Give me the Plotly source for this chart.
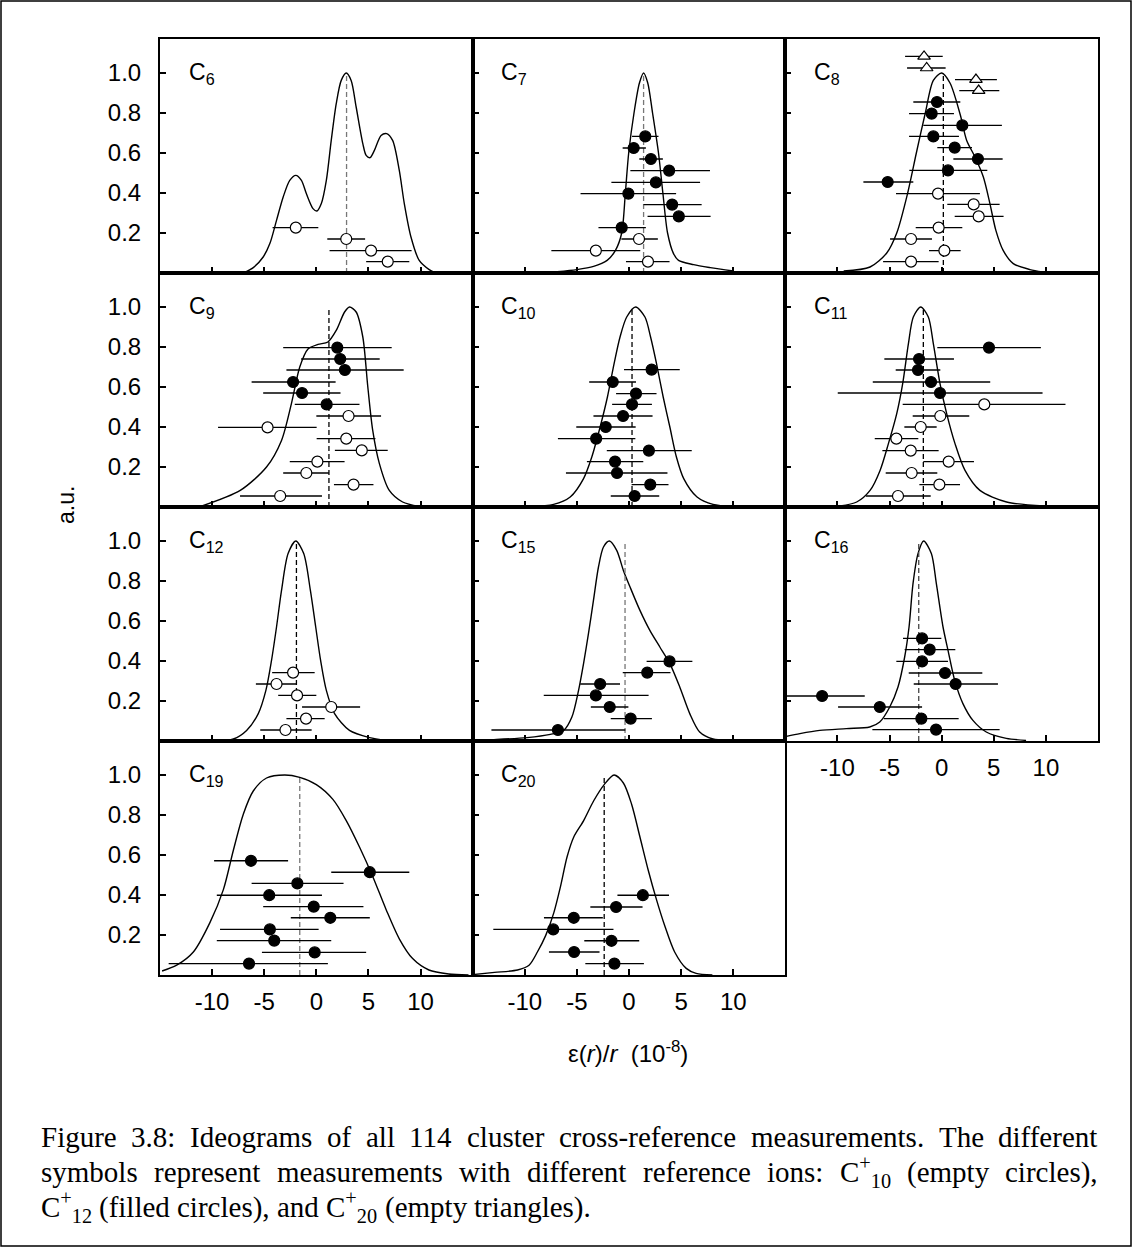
import plotly.graph_objects as go
from plotly.subplots import make_subplots

# ---------------- data ----------------
panel_names = ["6", "7", "8", "9", "10", "11", "12", "15", "16", "19", "20"]
x_ticks = [-10, -5, 0, 5, 10]
x_tick_text = ["-10", "-5", "0", "5", "10"]
y_ticks = [0.2, 0.4, 0.6, 0.8, 1.0]
y_tick_text = ["0.2", "0.4", "0.6", "0.8", "1.0"]

# ideogram curves
c6_cx = [-7.0, -6.05, -5.1, -4.46, -3.82, -3.18, -2.55, -1.97, -1.43, -0.96, -0.32, 0.06, 0.48, 0.96, 1.43, 1.91, 2.39, 2.87, 3.34, 3.82, 4.46, 4.78, 5.16, 5.57, 6.21, 6.75, 7.32, 7.96, 8.44, 9.08, 9.87, 10.83, 11.46]
c6_cy = [0.0, 0.027, 0.08, 0.147, 0.263, 0.38, 0.463, 0.488, 0.463, 0.397, 0.322, 0.31, 0.347, 0.463, 0.663, 0.847, 0.963, 1.0, 0.963, 0.83, 0.647, 0.588, 0.577, 0.613, 0.688, 0.697, 0.663, 0.513, 0.347, 0.18, 0.063, 0.017, 0.0]
c7_cx = [-6.9, -5.0, -3.4, -2.1, -1.3, -0.7, -0.35, -0.03, 0.48, 1.0, 1.4, 1.8, 2.26, 2.83, 3.25, 3.7, 4.27, 4.75, 6.2, 7.8, 10.0]
c7_cy = [0.007, 0.017, 0.033, 0.063, 0.113, 0.2, 0.4, 0.6, 0.8, 0.95, 1.0, 0.95, 0.8, 0.6, 0.4, 0.2, 0.097, 0.063, 0.042, 0.027, 0.01]
c8_cx = [-9.4, -6.87, -5.27, -4.31, -3.26, -2.43, -1.57, -0.8, 0.0, 0.8, 1.79, 2.4, 3.2, 4.0, 4.63, 5.2, 5.9, 6.87, 8.47, 9.7]
c8_cy = [0.01, 0.03, 0.1, 0.2, 0.4, 0.6, 0.8, 0.963, 1.0, 0.95, 0.79, 0.663, 0.58, 0.48, 0.347, 0.213, 0.113, 0.047, 0.017, 0.005]
c9_cx = [-11.1, -7.3, -4.78, -3.34, -2.39, -1.59, -0.8, 0.16, 1.11, 1.91, 2.71, 3.18, 3.82, 4.46, 4.94, 5.41, 6.05, 7.0, 8.28, 9.87]
c9_cy = [0.003, 0.083, 0.2, 0.333, 0.517, 0.7, 0.79, 0.813, 0.825, 0.883, 0.975, 1.0, 0.975, 0.85, 0.6, 0.383, 0.217, 0.083, 0.025, 0.003]
c10_cx = [-9.46, -7.23, -5.64, -4.36, -3.57, -2.77, -2.07, -1.43, -0.86, -0.22, 0.64, 1.53, 2.07, 2.64, 3.28, 3.92, 4.55, 5.25, 6.53, 8.06, 9.97]
c10_cy = [0.003, 0.013, 0.05, 0.142, 0.25, 0.4, 0.55, 0.717, 0.85, 0.95, 1.0, 0.95, 0.85, 0.717, 0.55, 0.4, 0.25, 0.142, 0.05, 0.013, 0.003]
c11_cx = [-9.74, -8.15, -6.87, -5.91, -5.11, -4.31, -3.74, -3.19, -2.72, -2.01, -1.28, -0.8, -0.16, 0.48, 1.28, 2.24, 3.67, 6.23, 10.06, 12.3]
c11_cy = [0.005, 0.025, 0.083, 0.183, 0.317, 0.467, 0.617, 0.817, 0.95, 1.0, 0.95, 0.817, 0.617, 0.467, 0.317, 0.183, 0.083, 0.025, 0.005, 0.003]
c12_cx = [-9.55, -7.96, -6.69, -5.57, -4.84, -4.3, -3.82, -3.34, -2.71, -1.97, -1.21, -0.57, -0.06, 0.41, 0.96, 1.75, 3.18, 5.1, 6.69]
c12_cy = [0.0, 0.01, 0.053, 0.137, 0.253, 0.403, 0.57, 0.753, 0.937, 1.0, 0.937, 0.753, 0.57, 0.403, 0.253, 0.137, 0.053, 0.017, 0.003]
c15_cx = [-14.9, -12.96, -9.78, -7.55, -6.27, -5.48, -4.84, -4.36, -3.89, -3.41, -2.93, -2.45, -1.88, -1.18, -0.54, 0.1, 1.05, 2.0, 2.96, 3.92, 4.87, 5.83, 6.78, 8.06, 9.33]
c15_cy = [0.003, 0.007, 0.017, 0.033, 0.053, 0.12, 0.253, 0.387, 0.537, 0.703, 0.87, 0.97, 1.0, 0.953, 0.853, 0.77, 0.653, 0.553, 0.47, 0.387, 0.27, 0.137, 0.045, 0.01, 0.003]
c16_cx = [-14.9, -13.6, -11.7, -9.14, -6.9, -5.94, -4.98, -4.19, -3.55, -3.13, -2.75, -2.27, -1.73, -0.99, -0.51, 0.13, 0.61, 1.25, 2.04, 3.0, 4.28, 6.2, 8.1]
c16_cy = [0.023, 0.037, 0.053, 0.062, 0.07, 0.095, 0.17, 0.27, 0.42, 0.57, 0.787, 0.937, 1.0, 0.937, 0.787, 0.57, 0.453, 0.303, 0.187, 0.103, 0.045, 0.013, 0.003]
c19_cx = [-14.8, -13.4, -11.8, -10.2, -8.92, -7.96, -7.0, -6.05, -4.78, -3.03, -1.59, 0.0, 1.59, 2.87, 4.14, 5.41, 6.69, 7.96, 9.24, 10.8, 12.7, 14.6]
c19_cy = [0.02, 0.049, 0.115, 0.263, 0.427, 0.624, 0.805, 0.92, 0.985, 1.0, 0.988, 0.952, 0.878, 0.772, 0.64, 0.493, 0.328, 0.181, 0.082, 0.025, 0.005, 0.0]
c20_cx = [-14.8, -12.9, -10.7, -9.59, -8.79, -8.0, -7.21, -6.57, -5.94, -5.3, -4.35, -3.4, -2.38, -1.43, -0.54, 0.25, 1.05, 1.84, 2.63, 3.43, 4.38, 5.49, 6.44, 8.0]
c20_cy = [0.003, 0.013, 0.025, 0.049, 0.115, 0.197, 0.312, 0.443, 0.591, 0.69, 0.772, 0.87, 0.952, 1.0, 0.96, 0.854, 0.69, 0.525, 0.378, 0.246, 0.115, 0.033, 0.008, 0.0]

# measurements: value, height, lower/upper end of error bar, kind (o=C10+ open, f=C12+ filled, t=C20+ triangle)
c6_x = [-1.97, 2.87, 5.25, 6.85]
c6_y = [0.227, 0.17, 0.112, 0.057]
c6_lo = [-4.2, 1.05, 1.27, 4.78]
c6_hi = [0.19, 4.68, 9.14, 8.92]
c6_k = ["o", "o", "o", "o"]

c7_x = [1.56, 0.45, 2.10, 3.85, 2.58, -0.06, 4.14, 4.78, -0.70, 0.96, -3.18, 1.82]
c7_y = [0.683, 0.625, 0.57, 0.512, 0.453, 0.397, 0.342, 0.283, 0.227, 0.17, 0.112, 0.057]
c7_lo = [0.29, -0.61, 0.99, 0.13, -1.69, -4.65, 1.40, 1.78, -2.93, -0.73, -7.45, -0.29]
c7_hi = [2.83, 1.62, 3.25, 7.77, 6.82, 4.52, 6.97, 7.83, 1.62, 2.77, 1.08, 3.89]
c7_k = ["f"] * 9 + ["o"] * 3

c8_x = [-1.69, -1.44, 3.29, 3.55, -0.45, -0.96, 1.98, -0.80, 1.25, 3.48, 0.61, -5.18, -0.35, 3.07, 3.55, -0.29, -2.94, 0.26, -2.94]
c8_y = [1.083, 1.025, 0.967, 0.912, 0.855, 0.797, 0.738, 0.683, 0.627, 0.57, 0.513, 0.455, 0.397, 0.343, 0.283, 0.227, 0.17, 0.112, 0.057]
c8_lo = [-3.51, -3.32, 1.28, 1.69, -2.72, -3.13, -1.76, -3.13, -0.42, 1.12, -3.10, -7.51, -4.38, 0.54, 1.25, -2.49, -4.95, -1.21, -5.62]
c8_hi = [0.10, 0.38, 5.30, 5.53, 1.79, 1.18, 5.78, 1.66, 2.91, 5.85, 4.38, -2.72, 3.67, 5.56, 5.94, 1.98, -0.93, 1.82, -0.29]
c8_k = ["t"] * 4 + ["f"] * 8 + ["o"] * 7

c9_x = [2.01, 2.29, 2.74, -2.23, -1.37, 0.99, 3.09, -4.68, 2.87, 4.36, 0.10, -0.96, 3.57, -3.47]
c9_y = [0.797, 0.74, 0.685, 0.625, 0.57, 0.513, 0.455, 0.398, 0.342, 0.283, 0.227, 0.17, 0.112, 0.055]
c9_lo = [-3.18, -1.46, -2.87, -6.21, -5.10, -2.07, 0.0, -9.43, 0.03, 1.78, -2.55, -3.18, 1.69, -7.32]
c9_hi = [7.23, 6.08, 8.38, 1.85, 2.32, 4.14, 6.21, 0.03, 5.67, 6.85, 2.71, 1.21, 5.48, 0.54]
c9_k = ["f"] * 6 + ["o"] * 8

c10_x = [2.17, -1.56, 0.67, 0.29, -0.57, -2.23, -3.15, 1.91, -1.34, -1.15, 2.04, 0.54]
c10_y = [0.687, 0.625, 0.567, 0.513, 0.455, 0.4, 0.342, 0.282, 0.227, 0.17, 0.112, 0.055]
c10_lo = [-0.48, -3.82, -1.24, -1.62, -3.41, -5.06, -6.82, -2.13, -4.04, -6.05, 0.25, -1.75]
c10_hi = [4.87, 0.67, 2.64, 2.20, 2.26, 0.64, 0.61, 6.02, 1.37, 3.69, 3.79, 2.90]
c10_k = ["f"] * 12

c11_x = [4.54, -2.17, -2.27, -1.02, -0.16, 4.09, -0.13, -2.01, -4.35, -2.97, 0.67, -2.88, -0.22, -4.19]
c11_y = [0.797, 0.74, 0.685, 0.625, 0.57, 0.513, 0.455, 0.4, 0.342, 0.282, 0.227, 0.17, 0.112, 0.055]
c11_lo = [-0.42, -5.50, -4.41, -6.61, -9.97, -3.74, -2.78, -3.58, -6.42, -5.69, -1.76, -5.37, -2.14, -7.28]
c11_hi = [9.52, 1.18, -0.13, 4.66, 9.68, 11.88, 2.65, -0.48, -2.24, -0.29, 3.10, -0.42, 1.76, -1.05]
c11_k = ["f"] * 5 + ["o"] * 9

c12_x = [-2.23, -3.82, -1.85, 1.43, -0.99, -2.96]
c12_y = [0.342, 0.285, 0.228, 0.17, 0.112, 0.055]
c12_lo = [-4.24, -5.80, -3.66, -1.37, -2.87, -5.38]
c12_hi = [-0.16, -1.91, 0.0, 4.20, 0.80, -0.45]
c12_k = ["o"] * 6

c15_x = [3.89, 1.75, -2.77, -3.18, -1.85, 0.16, -6.82]
c15_y = [0.398, 0.342, 0.285, 0.228, 0.17, 0.112, 0.055]
c15_lo = [1.69, -0.60, -4.68, -8.18, -3.66, -1.75, -13.2]
c15_hi = [6.08, 3.98, -0.86, 1.88, -0.06, 2.20, -0.35]
c15_k = ["f"] * 7

c16_x = [-1.88, -1.15, -1.88, 0.32, 1.34, -11.47, -5.94, -1.95, -0.54]
c16_y = [0.513, 0.457, 0.398, 0.34, 0.285, 0.225, 0.17, 0.112, 0.057]
c16_lo = [-3.71, -3.55, -4.35, -3.16, -2.68, -15.5, -9.94, -5.56, -6.65]
c16_hi = [-0.03, 1.31, 0.61, 3.90, 5.40, -7.38, -1.88, 1.63, 5.56]
c16_k = ["f"] * 9

c19_x = [-6.27, 5.13, -1.82, -4.52, -0.25, 1.34, -4.46, -4.04, -0.16, -6.46]
c19_y = [0.571, 0.514, 0.458, 0.399, 0.342, 0.286, 0.228, 0.172, 0.113, 0.057]
c19_lo = [-9.81, 1.43, -6.21, -9.55, -5.10, -2.45, -9.24, -9.55, -5.22, -14.17]
c19_hi = [-2.71, 8.92, 2.61, 0.54, 4.52, 5.13, 0.22, 1.43, 4.78, 1.11]
c19_k = ["f"] * 10

c20_x = [1.33, -1.24, -5.30, -7.27, -1.68, -5.27, -1.40]
c20_y = [0.399, 0.34, 0.286, 0.228, 0.171, 0.115, 0.057]
c20_lo = [-1.11, -3.71, -8.16, -13.02, -4.29, -7.68, -4.19]
c20_hi = [3.84, 1.30, -2.51, -1.49, 0.98, -2.83, 1.43]
c20_k = ["f"] * 7

# weighted means (dashed lines)
mean_values = [2.9, 1.4, 0.16, 1.21, 0.29, -1.76, -1.91, -0.38, -2.2, -1.59, -2.38]
mean_top = [1.0] * 11

# caption words (tuples = ion symbol C^+_n)
caption_line1 = ["Figure", "3.8:", "Ideograms", "of", "all", "114", "cluster", "cross-reference",
                 "measurements.", "The", "different"]
caption_line2 = ["symbols", "represent", "measurements", "with", "different", "reference", "ions:",
                 ("ion", "10"), "(empty", "circles),"]
caption_line3 = [("ion", "12"), "(filled", "circles),", "and", ("ion", "20"), "(empty", "triangles)."]

# ---------------- figure ----------------
W, H = 1135, 1260
ML, MR, MT, MB = 160, 37, 39, 285
PW, PH = W - ML - MR, H - MT - MB

positions = [(1, 1), (1, 2), (1, 3), (2, 1), (2, 2), (2, 3), (3, 1), (3, 2), (3, 3), (4, 1), (4, 2)]
curves = [(c6_cx, c6_cy), (c7_cx, c7_cy), (c8_cx, c8_cy), (c9_cx, c9_cy), (c10_cx, c10_cy), (c11_cx, c11_cy),
          (c12_cx, c12_cy), (c15_cx, c15_cy), (c16_cx, c16_cy), (c19_cx, c19_cy), (c20_cx, c20_cy)]
points = [(c6_x, c6_y, c6_lo, c6_hi, c6_k), (c7_x, c7_y, c7_lo, c7_hi, c7_k), (c8_x, c8_y, c8_lo, c8_hi, c8_k),
          (c9_x, c9_y, c9_lo, c9_hi, c9_k), (c10_x, c10_y, c10_lo, c10_hi, c10_k), (c11_x, c11_y, c11_lo, c11_hi, c11_k),
          (c12_x, c12_y, c12_lo, c12_hi, c12_k), (c15_x, c15_y, c15_lo, c15_hi, c15_k), (c16_x, c16_y, c16_lo, c16_hi, c16_k),
          (c19_x, c19_y, c19_lo, c19_hi, c19_k), (c20_x, c20_y, c20_lo, c20_hi, c20_k)]
dash_colors = ["#777", "#777", "#000", "#000", "#000", "#000", "#000", "#777", "#444", "#777", "#000"]

symbol_of = {"o": "circle", "f": "circle", "t": "triangle-up"}
fill_of = {"o": "white", "f": "black", "t": "white"}

fig = make_subplots(rows=4, cols=3, horizontal_spacing=0, vertical_spacing=0)

for i, (r, c) in enumerate(positions):
    cx, cy = curves[i]
    fig.add_trace(go.Scatter(x=cx, y=cy, mode="lines", line=dict(color="black", width=1.4, shape="spline", smoothing=0.8),
                             hoverinfo="skip", showlegend=False), row=r, col=c)
    m = mean_values[i]
    fig.add_trace(go.Scatter(x=[m, m], y=[0, mean_top[i]], mode="lines",
                             line=dict(color=dash_colors[i], width=1.3, dash="5px,3px"),
                             hoverinfo="skip", showlegend=False), row=r, col=c)
    px, py, lo, hi, kinds = points[i]
    fig.add_trace(go.Scatter(
        x=px, y=py, mode="markers",
        marker=dict(symbol=[symbol_of[k] for k in kinds], color=[fill_of[k] for k in kinds],
                    size=11, opacity=1, line=dict(color="black", width=1.2)),
        error_x=dict(type="data", symmetric=False,
                     array=[h - v for h, v in zip(hi, px)],
                     arrayminus=[v - l for v, l in zip(px, lo)],
                     color="black", thickness=1.4, width=0),
        hoverinfo="skip", showlegend=False), row=r, col=c)

    xlabels = (r, c) in [(3, 3), (4, 1), (4, 2)]
    fig.update_xaxes(range=[-15, 15], tickvals=x_ticks, ticktext=x_tick_text, ticks="inside", ticklen=6,
                     tickwidth=1.5, tickcolor="black", showticklabels=xlabels, ticklabelstandoff=4,
                     showline=True, mirror=True, linecolor="black", linewidth=2,
                     showgrid=False, zeroline=False, row=r, col=c)
    fig.update_yaxes(range=[0, 1.17], tickvals=y_ticks, ticktext=y_tick_text, ticks="inside", ticklen=6,
                     tickwidth=1.5, tickcolor="black", showticklabels=(c == 1), ticklabelstandoff=12,
                     showline=True, mirror=True, linecolor="black", linewidth=2,
                     showgrid=False, zeroline=False, row=r, col=c)
    fig.add_annotation(text="C<sub>%s</sub>" % panel_names[i], xref="x%s domain" % ("" if i == 0 else i + 1),
                       yref="y%s domain" % ("" if i == 0 else i + 1), x=0.085, y=0.925, xanchor="left", yanchor="top",
                       showarrow=False, font=dict(size=23, color="black", family="Liberation Sans"))

fig.update_xaxes(visible=False, row=4, col=3)
fig.update_yaxes(visible=False, row=4, col=3)


def px2paper(xp, yp):
    return (xp - ML) / PW, (H - MB - yp) / PH


ax, ay = px2paper(66, 505)
fig.add_annotation(text="a.u.", xref="paper", yref="paper", x=ax, y=ay, xanchor="center", yanchor="middle",
                   textangle=-90, showarrow=False, font=dict(size=23, color="black", family="Liberation Sans"))
tx, ty = px2paper(628, 1052)
fig.add_annotation(text="\u03b5(<i>r</i>)/<i>r</i>\u00a0\u00a0(10<sup>-8</sup>)", xref="paper", yref="paper",
                   x=tx, y=ty, xanchor="center", yanchor="middle", showarrow=False,
                   font=dict(size=24, color="black", family="Liberation Sans"))

# ---- caption, laid out word by word (justified like the reference) ----
CAP = 29
SUB = CAP * 0.7
TIMES_W = {" ": 250, "(": 333, ")": 333, "+": 564, ",": 250, "-": 333, ".": 250, ":": 278,
           "C": 667, "F": 556, "I": 333, "T": 611}
for ch in "0123456789":
    TIMES_W[ch] = 500
TIMES_W.update({"a": 444, "b": 500, "c": 444, "d": 500, "e": 444, "f": 333, "g": 500, "h": 500, "i": 278,
                "j": 278, "k": 500, "l": 278, "m": 778, "n": 500, "o": 500, "p": 500, "q": 500, "r": 333,
                "s": 389, "t": 278, "u": 500, "v": 500, "w": 722, "x": 500, "y": 500, "z": 444})


def tw(s, size):
    return sum(TIMES_W.get(ch, 500) for ch in s) * size / 1000.0


def tok_w(t):
    if isinstance(t, tuple):
        return tw("C", CAP) + tw("+", SUB) + tw(t[1], SUB)
    return tw(t, CAP)


def cap_text(text, xp, yp):
    xx, yy = px2paper(xp, yp)
    fig.add_annotation(text=text, xref="paper", yref="paper", x=xx, y=yy, xanchor="left", yanchor="middle",
                       showarrow=False, borderpad=0, font=dict(size=CAP, color="black", family="Liberation Serif"))


def place_line(tokens, yp, x_left, x_right=None):
    widths = [tok_w(t) for t in tokens]
    gap = tw(" ", CAP) if x_right is None else (x_right - x_left - sum(widths)) / (len(tokens) - 1)
    xp = x_left
    for t, w in zip(tokens, widths):
        if isinstance(t, tuple):
            cap_text("C<sup>+</sup><sub>%s</sub>" % t[1], xp, yp)
        else:
            cap_text(t, xp, yp)
        xp += w + gap


place_line(caption_line1, 1137, 40, 1097)
place_line(caption_line2, 1172, 40, 1097)
place_line(caption_line3, 1207, 40)

bx0, by0 = px2paper(1, 1246)
bx1, by1 = px2paper(1131, 1)
fig.add_shape(type="rect", xref="paper", yref="paper", x0=bx0, y0=by0, x1=bx1, y1=by1,
              line=dict(color="black", width=1.5))

fig.update_layout(width=W, height=H, margin=dict(l=ML, r=MR, t=MT, b=MB), plot_bgcolor="white",
                  paper_bgcolor="white", font=dict(family="Liberation Sans", size=24, color="black"),
                  showlegend=False)

fig.write_html("out.html")
